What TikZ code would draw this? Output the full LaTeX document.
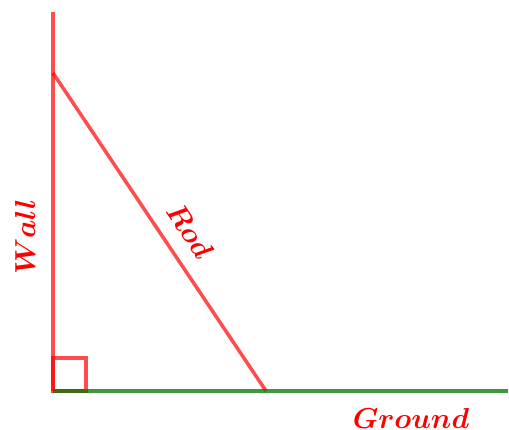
\documentclass[tikz,border=0pt]{standalone}
\usepackage{amsmath}
\usepackage{bm}
\newcommand{\biglbl}[1]{\scalebox{1.16}{$\bm{#1}$}}
\begin{document}
\begin{tikzpicture}[x=1pt,y=-1pt,
  redline/.style={draw=red,opacity=0.7,line width=3.5pt},
  greenline/.style={draw=green!45!black,opacity=0.75,line width=3.5pt},
  lbl/.style={text=red,font=\Huge,inner sep=0pt}]
\useasboundingbox (0,0) rectangle (509,430);
\coordinate (O) at (53,391);
\coordinate (T) at (53,12);
\coordinate (G) at (508,391);
\coordinate (A) at (53,73);
\coordinate (B) at (266,391);
\draw[redline] (O) -- (T);
\draw[redline] (A) -- (B);
\draw[redline] (O) rectangle ++(33,-33);
\draw[greenline] (O) -- (G);
\node[lbl,rotate=90] (wall) at (25,237) {\biglbl{Wall}};
\node[lbl,rotate=-56.2] (rod) at (190,231) {\biglbl{Rod}};
\node[lbl] (ground) at (411,418) {\biglbl{Ground}};
\end{tikzpicture}
\end{document}
